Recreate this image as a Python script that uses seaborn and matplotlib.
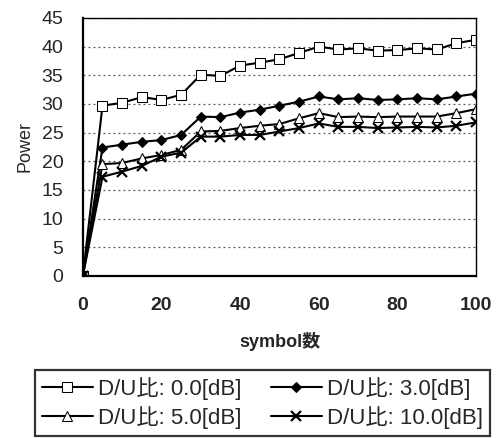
import numpy as np
import pandas as pd
import matplotlib
matplotlib.use('Agg')
import matplotlib.pyplot as plt
import seaborn as sns

# valores
symbols = [0, 5, 10, 15, 20, 25, 30, 35, 40, 45, 50, 55, 60, 65, 70, 75, 80, 85, 90, 95, 100]
power_0db = [0, 29.7, 30.2, 31.2, 30.7, 31.6, 35.1, 34.9, 36.7, 37.2, 37.8, 38.9, 40.0,
             39.5, 39.7, 39.3, 39.4, 39.7, 39.5, 40.6, 41.2]
power_3db = [0, 22.4, 22.9, 23.4, 23.7, 24.6, 27.8, 27.7, 28.5, 29.0, 29.7, 30.4, 31.3,
             30.8, 31.0, 30.7, 30.8, 31.0, 30.8, 31.3, 31.8]
power_5db = [0, 19.5, 19.7, 20.5, 21.1, 22.0, 25.2, 25.3, 25.8, 26.2, 26.5, 27.5, 28.4,
             27.7, 27.8, 27.7, 27.8, 27.8, 27.8, 28.4, 29.1]
power_10db = [0, 17.3, 18.2, 19.2, 20.8, 21.5, 24.3, 24.3, 24.6, 24.6, 25.2, 25.8, 26.6,
              26.0, 26.0, 25.8, 25.9, 26.0, 25.9, 26.2, 26.8]
labels = ['D/U比: 0.0[dB]', 'D/U比: 3.0[dB]', 'D/U比: 5.0[dB]', 'D/U比: 10.0[dB]']

sns.set_style('white')
plt.rcParams['font.family'] = ['Liberation Sans', 'Noto Sans CJK JP', 'DejaVu Sans']

fig = plt.figure(figsize=(4.96, 4.38), dpi=100)
ax = fig.add_axes([0.167, 0.370, 0.793, 0.589])

estilos = [
    dict(marker='s', markerfacecolor='white', markersize=7),
    dict(marker='D', markerfacecolor='black', markersize=5),
    dict(marker='^', markerfacecolor='white', markersize=7),
    dict(marker='x', markersize=7, markeredgewidth=1.6),
]
series = [power_0db, power_3db, power_5db, power_10db]
for valores, rotulo, est in zip(series, labels, estilos):
    sns.lineplot(x=symbols, y=valores, ax=ax, color='black', linewidth=1.5,
                 markeredgecolor='black', label=rotulo, **est)
handles, _ = ax.get_legend_handles_labels()
ax.get_legend().remove()

ax.set_xlim(0, 100)
ax.set_ylim(0, 45)
ax.set_xticks([0, 20, 40, 60, 80, 100])
ax.set_xticks(symbols, minor=True)
ax.set_yticks(np.arange(0, 46, 5))
ax.yaxis.grid(True, linestyle=(0, (1.5, 2.5)), color='#555555', linewidth=0.9)
ax.tick_params(axis='both', which='both', direction='in', color='black', width=1.5)
ax.tick_params(axis='x', which='major', length=6, labelsize=14, pad=15)
ax.tick_params(axis='x', which='minor', length=6)
ax.tick_params(axis='y', length=6, labelsize=14, pad=14)
for lab in ax.get_xticklabels():
    lab.set_fontweight('bold')
for lado, sp in ax.spines.items():
    sp.set_color('black')
    sp.set_linewidth(1.6 if lado in ('left', 'bottom') else 1.0)

ax.set_xlabel('symbol数', fontsize=13, fontweight='bold', labelpad=13)
ax.set_ylabel('Power', fontsize=13, labelpad=6)

ordem = [0, 2, 1, 3]
leg = fig.legend([handles[i] for i in ordem], [labels[i] for i in ordem],
                 loc='lower center', bbox_to_anchor=(0.529, 0.005), ncol=2,
                 frameon=True, fancybox=False, edgecolor='black', fontsize=16,
                 handlelength=2.3, handletextpad=0.25, columnspacing=1.3,
                 borderpad=0.3, labelspacing=0.3, borderaxespad=0)
leg.get_frame().set_linewidth(1.6)

fig.savefig('out.png', dpi=100)
